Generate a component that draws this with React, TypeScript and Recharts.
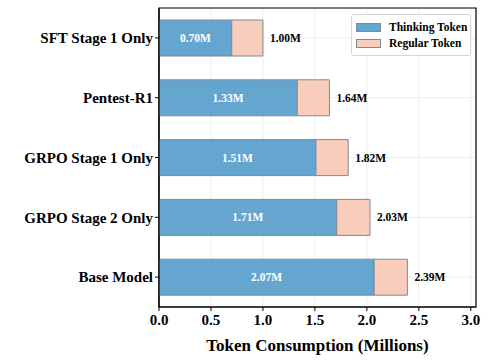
import { BarChart, Bar, XAxis, YAxis, CartesianGrid, LabelList, ReferenceArea, Label } from "recharts";

const models = ["SFT Stage 1 Only", "Pentest-R1", "GRPO Stage 1 Only", "GRPO Stage 2 Only", "Base Model"];
const thinkingTokens = [0.7, 1.33, 1.51, 1.71, 2.07];
const totalTokens = [1.0, 1.64, 1.82, 2.03, 2.39];
const xTicks = [0, 0.5, 1, 1.5, 2, 2.5, 3];

const BLUE = "#64a6cf";
const PEACH = "#f9cdbb";
const EDGE = "#7d8b98";
const FONT = "'Liberation Serif', 'Times New Roman', serif";

const data = models.map((m, i) => ({
  model: m,
  thinking: thinkingTokens[i],
  regular: +(totalTokens[i] - thinkingTokens[i]).toFixed(2),
  total: totalTokens[i],
}));

const fmt = (v: any) => `${Number(v).toFixed(2)}M`;

// legend drawn as a plain overlay so it doesn't eat into the plot area
function LegendBox() {
  const items = [
    { name: "Thinking Token", color: BLUE },
    { name: "Regular Token", color: PEACH },
  ];
  return (
    <div
      style={{
        position: "absolute",
        left: 351,
        top: 14,
        width: 120,
        height: 42,
        border: "1px solid #d6d6d6",
        borderRadius: 3,
        background: "rgba(255,255,255,0.9)",
        padding: "4px 0 0 4px",
        fontFamily: FONT,
        fontWeight: "bold",
        fontSize: 11.5,
        boxSizing: "border-box",
        whiteSpace: "nowrap",
      }}
    >
      {items.map((it) => (
        <div key={it.name} style={{ display: "flex", alignItems: "center", height: 16 }}>
          <span
            style={{
              display: "inline-block",
              width: 23,
              height: 7,
              background: it.color,
              border: `1px solid ${EDGE}`,
              marginRight: 8,
            }}
          />
          <span>{it.name}</span>
        </div>
      ))}
    </div>
  );
}

export default function App() {
  return (
    <div style={{ position: "absolute", left: 0, top: 0, width: 489, height: 362, background: "#fff" }}>
      <BarChart
        width={489}
        height={362}
        data={data}
        layout="vertical"
        margin={{ top: 8, right: 13, left: 0, bottom: 0 }}
      >
        <CartesianGrid stroke="#ececec" strokeWidth={1} />
        <XAxis
          type="number"
          domain={[0, 3.05]}
          ticks={xTicks}
          allowDataOverflow
          height={55}
          tickFormatter={(v: number) => v.toFixed(1)}
          tick={{ fill: "#000", fontSize: 15, fontWeight: "bold", fontFamily: FONT }}
          axisLine={{ stroke: "#000", strokeWidth: 1.2 }}
          tickLine={{ stroke: "#000" }}
          tickSize={4}
          tickMargin={3}
        >
          <Label
            value="Token Consumption (Millions)"
            position="insideBottom"
            offset={11}
            style={{ fill: "#000", fontSize: 17, fontWeight: "bold", fontFamily: FONT }}
          />
        </XAxis>
        <YAxis
          type="category"
          dataKey="model"
          width={159}
          tick={{ fill: "#000", fontSize: 15, fontWeight: "bold", fontFamily: FONT }}
          axisLine={{ stroke: "#000", strokeWidth: 1.2 }}
          tickLine={{ stroke: "#000" }}
          tickSize={4}
          tickMargin={2}
        />
        <ReferenceArea x1={0} x2={3.05} fill="none" stroke="#000" strokeWidth={1.2} ifOverflow="visible" />
        <Bar dataKey="thinking" stackId="a" fill={BLUE} stroke={EDGE} strokeWidth={1} barSize={36} isAnimationActive={false}>
          <LabelList
            dataKey="thinking"
            position="center"
            formatter={fmt}
            style={{ fill: "#fff", fontSize: 11.5, fontWeight: "bold", fontFamily: FONT }}
          />
        </Bar>
        <Bar dataKey="regular" stackId="a" fill={PEACH} stroke={EDGE} strokeWidth={1} barSize={36} isAnimationActive={false}>
          <LabelList
            dataKey="total"
            position="right"
            offset={7}
            formatter={fmt}
            style={{ fill: "#000", fontSize: 11.5, fontWeight: "bold", fontFamily: FONT }}
          />
        </Bar>
      </BarChart>
      <LegendBox />
    </div>
  );
}
